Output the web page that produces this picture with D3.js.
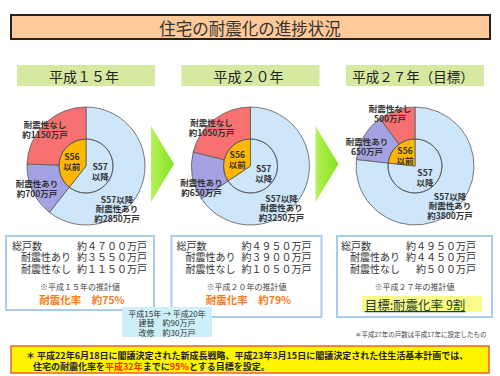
<!DOCTYPE html>
<html>
<head>
<meta charset="utf-8">
<script src="https://cdn.jsdelivr.net/npm/d3@7"></script>
<style>
body{margin:0;background:#fff}
svg{display:block;font-family:"Noto Sans CJK JP","Noto Sans",sans-serif}
</style>
</head>
<body>
<div class="chart"></div>
<script>
// data
var years = ["平成１５年", "平成２０年", "平成２７年（目標）"];
var newSafe = [2850, 3250, 3800];   // S57以降 耐震性あり
var oldSafe = [700, 650, 650];      // S56以前 耐震性あり
var oldUnsafe = [1150, 1050, 500];  // 耐震性なし
var totals = [4700, 4950, 4950];
var safeTotals = [3550, 3900, 4450];
var approx = ["約", "約", ""];
var estimateNotes = ["※平成１５年の推計値", "※平成２０年の推計値", "※平成２７年の推計値"];
var rateLabels = ["耐震化率　約75%", "耐震化率　約79%", "目標:耐震化率 9割"];
var rebuildLines = ["平成15年 → 平成20年", "建替　約90万戸", "改修　約30万戸"];

const WIDTH = 500, HEIGHT = 376;
const CY = 166, R_OUT = 59, R_IN = 27;

// label placement relative to pie centre (layout only)
var labelOffsets = [
	{unsafe: [-41, -37], oldSafe: [-49, 22], newSafe: [31, 42]},
	{unsafe: [-39, -39], oldSafe: [-49, 21], newSafe: [31, 41]},
	{unsafe: [-25, -53], oldSafe: [-48, -20], newSafe: [35, 39]}
];
var boxW = [148, 150, 155];

var toWide = function(n){
	return String(n).replace(/[0-9]/g, function(c){ return String.fromCharCode(c.charCodeAt(0) + 0xFEE0); });
};

var svg = d3.select(".chart").append("svg")
	.attr("width", WIDTH)
	.attr("height", HEIGHT);

var defs = svg.append("defs");
var grad = defs.append("linearGradient").attr("id", "arrowGrad")
	.attr("x1", "0").attr("x2", "1").attr("y1", "0").attr("y2", "0");
grad.append("stop").attr("offset", "0").attr("stop-color", "#b4f25a");
grad.append("stop").attr("offset", "1").attr("stop-color", "#84e21e");

// title
svg.append("rect")
	.attr("x", 11).attr("y", 15).attr("width", 479).attr("height", 24)
	.attr("fill", "#ffc999").attr("stroke", "#222").attr("stroke-width", 2);
svg.append("text")
	.attr("x", 250).attr("y", 27.5)
	.attr("text-anchor", "middle").attr("dominant-baseline", "central")
	.attr("font-size", 16.5).attr("fill", "#333")
	.text("住宅の耐震化の進捗状況");

var xScale = d3.scalePoint().domain(years).range([86, 415]);

var pie = d3.pie().sort(null).value(function(d){ return d; });
var outerArc = d3.arc().innerRadius(0).outerRadius(R_OUT);
var innerArc = d3.arc().innerRadius(0).outerRadius(R_IN);
var innerLabelArc = d3.arc().innerRadius(0).outerRadius(30);

var outerColors = ["#cde6fa", "#a3a3e3", "#f87171"];
var innerColors = ["#cde6fa", "#ffb700"];

var multiLine = function(g, x, y, lines, size, lh, color, weight){
	var t = g.append("text")
		.attr("text-anchor", "middle")
		.attr("font-size", size)
		.attr("font-weight", weight || "bold")
		.attr("fill", color || "#333");
	var y0 = y - (lines.length - 1) * lh / 2;
	lines.forEach(function(l, i){
		t.append("tspan").attr("x", x).attr("y", y0 + i * lh)
			.attr("dominant-baseline", "central").text(l);
	});
	return t;
};

years.forEach(function(year, i){
	var cx = xScale(year);
	var g = svg.append("g");

	// header
	g.append("rect")
		.attr("x", cx - 69).attr("y", 65).attr("width", 138).attr("height", 21)
		.attr("fill", "#d6e9a1");
	g.append("text")
		.attr("x", cx - 2).attr("y", 76)
		.attr("text-anchor", "middle").attr("dominant-baseline", "central")
		.attr("font-size", i == 2 ? 13.5 : 14).attr("fill", "#222")
		.text(year);

	// arrow to next year
	if (i < years.length - 1) {
		g.append("polygon")
			.attr("points", [[cx + 65, 126], [cx + 65, 202], [cx + 88, 164]].join(" "))
			.attr("fill", "url(#arrowGrad)");
	}

	// pies
	var pg = g.append("g").attr("transform", "translate(" + cx + "," + CY + ")");
	var outerData = pie([newSafe[i], oldSafe[i], oldUnsafe[i]]);
	pg.selectAll(".outer").data(outerData).enter().append("path")
		.attr("class", "outer")
		.attr("d", outerArc)
		.attr("fill", function(d, j){ return outerColors[j]; })
		.attr("stroke", "#5a5a5a").attr("stroke-width", 0.8);

	var innerData = pie([newSafe[i], oldSafe[i] + oldUnsafe[i]]);
	pg.selectAll(".inner").data(innerData).enter().append("path")
		.attr("class", "inner")
		.attr("d", innerArc)
		.attr("fill", function(d, j){ return innerColors[j]; })
		.attr("stroke", "#5a5a5a").attr("stroke-width", 0.8);
	pg.append("circle").attr("r", R_IN)
		.attr("fill", "none").attr("stroke", "#5a5a5a").attr("stroke-width", 0.8);

	var innerText = [["S57", "以降"], ["S56", "以前"]];
	innerData.forEach(function(d, j){
		var c = innerLabelArc.centroid(d);
		multiLine(pg, c[0], c[1], innerText[j], 8.5, 10, "#333");
	});

	var off = labelOffsets[i];
	multiLine(pg, off.unsafe[0], off.unsafe[1],
		["耐震性なし", approx[i] + oldUnsafe[i] + "万戸"], 8.5, 10, "#333");
	multiLine(pg, off.oldSafe[0], off.oldSafe[1],
		["耐震性あり", approx[i] + oldSafe[i] + "万戸"], 8.5, 10, "#333");
	multiLine(pg, off.newSafe[0], off.newSafe[1],
		["S57以降", "耐震性あり", "約" + newSafe[i] + "万戸"], 8.5, 9.5, "#333");

	// info box
	var bx = cx - 80 + i, bw = boxW[i];
	var bmid = bx + bw / 2;
	g.append("rect")
		.attr("x", bx).attr("y", 236).attr("width", bw).attr("height", i == 0 ? 74 : 81)
		.attr("fill", "#fff").attr("stroke", "#a9cbec").attr("stroke-width", 2);

	var rows = [
		["総戸数", totals[i], cx - 74],
		["耐震性あり", safeTotals[i], cx - 65],
		["耐震性なし", oldUnsafe[i], cx - 65]
	];
	rows.forEach(function(r, k){
		var y = 245 + k * 11.5;
		g.append("text").attr("x", r[2]).attr("y", y)
			.attr("dominant-baseline", "central").attr("font-size", 10).attr("fill", "#333")
			.text(r[0]);
		g.append("text").attr("x", cx + 61).attr("y", y)
			.attr("text-anchor", "end")
			.attr("dominant-baseline", "central").attr("font-size", 10).attr("fill", "#333")
			.text("約" + toWide(r[1]) + "万戸");
	});
	g.append("text").attr("x", bmid).attr("y", 286)
		.attr("text-anchor", "middle").attr("dominant-baseline", "central")
		.attr("font-size", 8).attr("fill", "#444")
		.text(estimateNotes[i]);

	if (i < 2) {
		g.append("text").attr("x", bmid + 2).attr("y", 299)
			.attr("text-anchor", "middle").attr("dominant-baseline", "central")
			.attr("font-size", 10.5).attr("font-weight", "bold").attr("fill", "#f47b20")
			.text(rateLabels[i]);
	} else {
		g.append("rect").attr("x", cx - 53).attr("y", 296).attr("width", 120).attr("height", 16)
			.attr("fill", "#fbfb8c");
		g.append("text").attr("x", cx).attr("y", 304.5)
			.attr("text-anchor", "middle").attr("dominant-baseline", "central")
			.attr("font-size", 12.5).attr("fill", "#1f3f1f")
			.attr("text-decoration", "underline")
			.text(rateLabels[i]);
	}
});

// rebuild / retrofit box
svg.append("rect").attr("x", 122).attr("y", 307).attr("width", 90).attr("height", 30)
	.attr("fill", "#cdeff9");
rebuildLines.forEach(function(l, k){
	svg.append("text").attr("x", 167).attr("y", 313 + k * 9.5)
		.attr("text-anchor", "middle").attr("dominant-baseline", "central")
		.attr("font-size", 8).attr("fill", "#333")
		.text(l);
});

// household count note
svg.append("text").attr("x", 355).attr("y", 334)
	.attr("dominant-baseline", "central")
	.attr("font-size", 6.5).attr("fill", "#444")
	.text("＊平成27年の戸数は平成17年に設定したもの");

// bottom note
svg.append("rect").attr("x", 11).attr("y", 346).attr("width", 478).attr("height", 27)
	.attr("fill", "#fff500").attr("stroke", "#e8603c").attr("stroke-width", 1.5);
svg.append("text").attr("x", 26).attr("y", 355)
	.attr("dominant-baseline", "central")
	.attr("font-size", 9).attr("font-weight", "bold").attr("fill", "#222")
	.text("＊ 平成22年6月18日に閣議決定された新成長戦略、平成23年3月15日に閣議決定された住生活基本計画では、");
var line2 = svg.append("text").attr("x", 33).attr("y", 365.5)
	.attr("dominant-baseline", "central")
	.attr("font-size", 9).attr("font-weight", "bold").attr("fill", "#222");
[["住宅の耐震化率を", "#222"], ["平成32年", "#ff2a00"], ["までに", "#222"],
 ["95%", "#ff2a00"], ["とする目標を設定。", "#222"]].forEach(function(p){
	line2.append("tspan").attr("fill", p[1]).text(p[0]);
});
</script>
</body>
</html>
